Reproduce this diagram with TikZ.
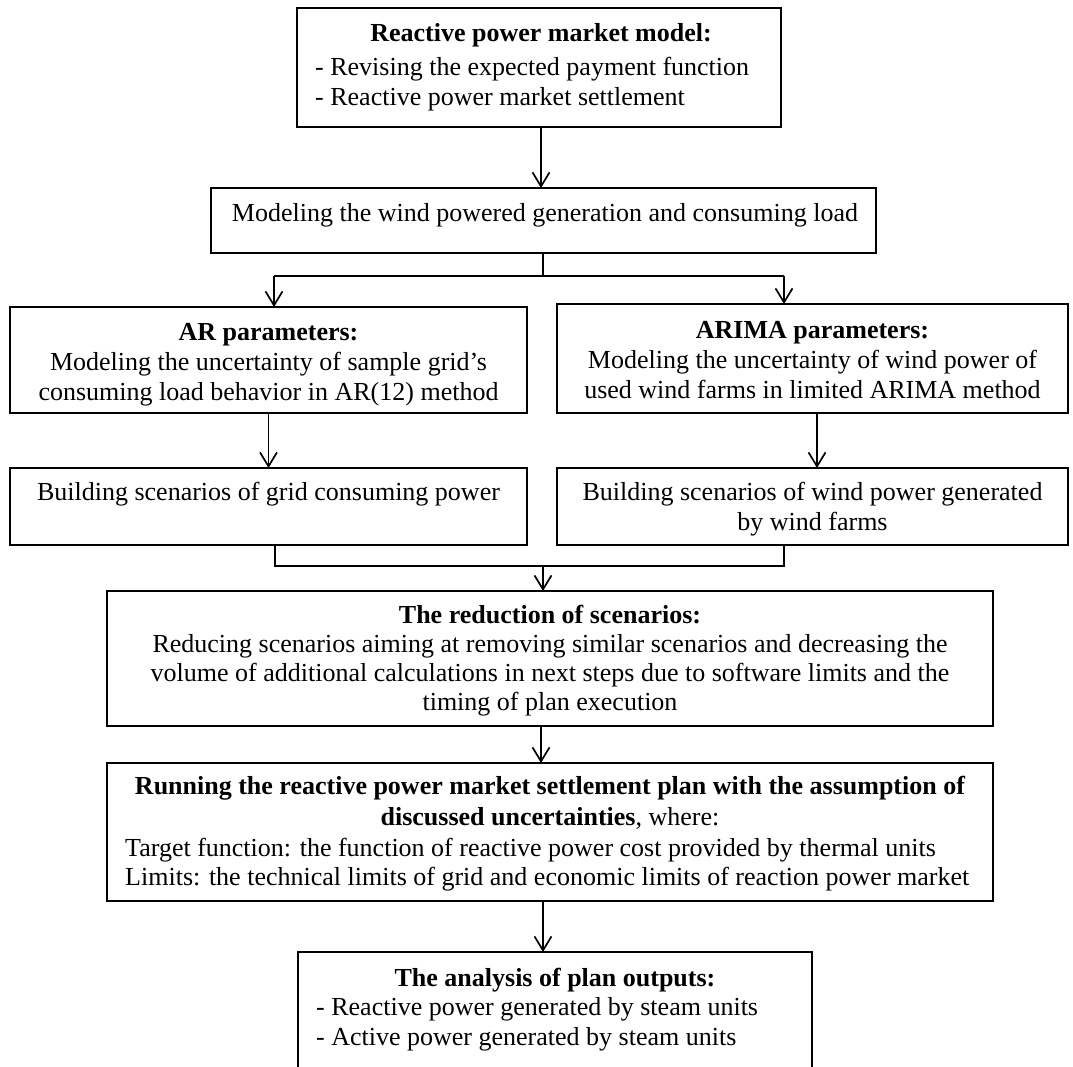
\documentclass[tikz,border=0pt]{standalone}
\usepackage{fontspec}
\setmainfont{Liberation Serif}
\usetikzlibrary{arrows.meta}
\tikzset{
  box/.style={draw, line width=2pt, inner sep=0pt, outer sep=0pt},
  txt/.style={font=\fontsize{26}{30}\selectfont, inner sep=0pt, anchor=base},
  txtl/.style={txt, anchor=base west},
  ttl/.style={txt, font=\fontsize{26}{30}\selectfont\bfseries},
  ln/.style={line width=1.7pt},
  arr/.style={line width=1.7pt, -{Straight Barb[length=14pt,width=17pt,line width=1.7pt]}}
}
\begin{document}
\begin{tikzpicture}[x=1pt,y=-1pt]
\useasboundingbox (0,0) rectangle (1073,1067);
% boxes
\node[box, minimum width=484pt, minimum height=119pt] (b1) at (539,67.5) {};
\node[box, minimum width=665pt, minimum height=65pt]  (b2) at (543.5,220.5) {};
\node[box, minimum width=517pt, minimum height=106pt] (b3) at (268.5,360) {};
\node[box, minimum width=511pt, minimum height=109pt] (b4) at (812.5,358.5) {};
\node[box, minimum width=517pt, minimum height=77pt]  (b5) at (268.5,506.5) {};
\node[box, minimum width=511pt, minimum height=77pt]  (b6) at (812.5,506.5) {};
\node[box, minimum width=886pt, minimum height=135pt] (b7) at (550,658.5) {};
\node[box, minimum width=886pt, minimum height=138pt] (b8) at (550,832) {};
\node[box, minimum width=514pt, minimum height=148pt] (b9) at (555,1026) {};
% texts
\node[ttl] (t1a) at (541,42) {Reactive power market model:};
\node[txtl] (t1b) at (315,76) {- Revising the expected payment function};
\node[txtl] (t1c) at (315,106) {- Reactive power market settlement};
\node[txt] (t2) at (545,222) {Modeling the wind powered generation and consuming load};
\node[ttl] (t3a) at (268.5,340) {AR parameters:};
\node[txt] (t3b) at (268.5,370) {Modeling the uncertainty of sample grid’s};
\node[txt] (t3c) at (268.5,400) {consuming load behavior in AR(12) method};
\node[ttl] (t4a) at (812.5,338) {ARIMA parameters:};
\node[txt] (t4b) at (812.5,368) {Modeling the uncertainty of wind power of};
\node[txt] (t4c) at (812.5,398) {used wind farms in limited ARIMA method};
\node[txt] (t5) at (268.5,500) {Building scenarios of grid consuming power};
\node[txt] (t6a) at (812.5,500) {Building scenarios of wind power generated};
\node[txt] (t6b) at (812.5,530) {by wind farms};
\node[ttl] (t7a) at (550,623) {The reduction of scenarios:};
\node[txt] (t7b) at (550,652) {Reducing scenarios aiming at removing similar scenarios and decreasing the};
\node[txt] (t7c) at (550,681) {volume of additional calculations in next steps due to software limits and the};
\node[txt] (t7d) at (550,710) {timing of plan execution};
\node[ttl] (t8a) at (550,794) {Running the reactive power market settlement plan with the assumption of};
\node[txt] (t8b) at (550,825) {\textbf{discussed uncertainties}, where:};
\node[txtl] (t8c) at (125,856) {Target function: the function of reactive power cost provided by thermal units};
\node[txtl] (t8d) at (125,885) {Limits: the technical limits of grid and economic limits of reaction power market};
\node[ttl] (t9a) at (555,986) {The analysis of plan outputs:};
\node[txtl] (t9b) at (316,1015) {- Reactive power generated by steam units};
\node[txtl] (t9c) at (316,1045) {- Active power generated by steam units};
% connectors
\draw[arr] ([xshift=2pt]b1.south) -- ([xshift=2pt]b1.south |- b2.north);
\coordinate (spc) at (543,276);
\coordinate (spl) at (274,276);
\coordinate (spr) at (784,276);
\draw[ln] (b2.south -| spc) -- (spc);
\draw[ln] (spl) -- (spr);
\draw[arr] (spl) -- (spl |- b3.north);
\draw[arr] (spr) -- (spr |- b4.north);
\draw[arr] (b3.south) -- (b5.north);
\draw[arr] ([xshift=4.5pt]b4.south) -- ([xshift=4.5pt]b6.north);
\coordinate (ml) at (275,566);
\coordinate (mr) at (784,566);
\coordinate (mm) at (543,566);
\draw[ln] (ml |- b5.south) -- (ml) -- (mr) -- (mr |- b6.south);
\draw[arr] (mm) -- (mm |- b7.north);
\draw[arr] ([xshift=-9pt]b7.south) -- ([xshift=-9pt]b7.south |- b8.north);
\draw[arr] ([xshift=-7pt]b8.south) -- ([xshift=-7pt]b8.south |- b9.north);
\end{tikzpicture}
\end{document}
